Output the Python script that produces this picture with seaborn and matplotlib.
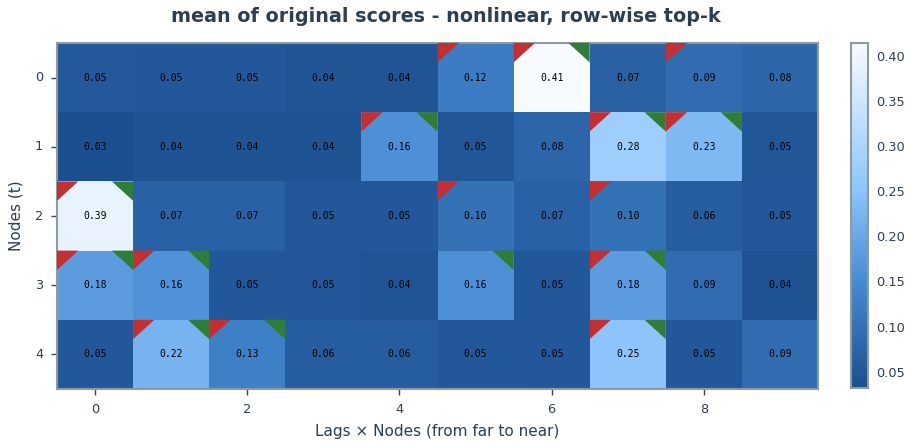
import numpy as np
import pandas as pd
import matplotlib
matplotlib.use("Agg")
import matplotlib.pyplot as plt
from matplotlib.colors import LinearSegmentedColormap
import seaborn as sns

# ---- data ----
row_labels = ["0", "1", "2", "3", "4"]
col_labels = [str(i) for i in range(10)]
row0 = [0.052, 0.051, 0.050, 0.044, 0.043, 0.122, 0.414, 0.068, 0.090, 0.080]
row1 = [0.032, 0.040, 0.041, 0.041, 0.160, 0.046, 0.078, 0.280, 0.230, 0.047]
row2 = [0.390, 0.070, 0.070, 0.050, 0.050, 0.100, 0.070, 0.102, 0.060, 0.050]
row3 = [0.180, 0.162, 0.050, 0.050, 0.043, 0.158, 0.050, 0.180, 0.090, 0.038]
row4 = [0.050, 0.220, 0.130, 0.060, 0.060, 0.050, 0.050, 0.250, 0.050, 0.090]
# top-k selected (red, top-left) and true links (green, top-right): column indices per row
topk_cols = [[5, 6, 8], [4, 7, 8], [0, 5, 7], [0, 1, 7], [1, 2, 7]]
true_cols = [[6], [4, 7, 8], [0], [0, 1, 5, 7], [1, 2, 7]]
xtick_labels = ["0", "2", "4", "6", "8"]
title = "mean of original scores - nonlinear, row-wise top-k"
xlabel = "Lags \u00d7 Nodes (from far to near)"
ylabel = "Nodes (t)"

df = pd.DataFrame([row0, row1, row2, row3, row4], index=row_labels, columns=col_labels)

text_col = "#2c3e50"
edge_col = "#8f9b9b"
cmap = LinearSegmentedColormap.from_list(
    "blu", [(0.0, "#1c4f8f"), (0.30, "#4489d0"), (0.57, "#8cc4fb"), (1.0, "#f7fbff")])

sns.set_style("white")
plt.rcParams["font.family"] = ["DejaVu Sans"]

fig = plt.figure(figsize=(9.13, 4.48), dpi=100)
ax = fig.add_axes([57 / 913, 59 / 448, 761 / 913, 346 / 448])
cax = fig.add_axes([851 / 913, 60 / 448, 17 / 913, 345 / 448])

sns.heatmap(df, ax=ax, cbar_ax=cax, cmap=cmap, annot=True, fmt=".2f",
            annot_kws={"family": "DejaVu Sans Mono", "size": 7, "color": "black"})

s = 0.28
for i in range(len(row_labels)):
    for j in topk_cols[i]:
        ax.fill([j, j + s, j], [i, i, i + s], color="#c23034", lw=0, zorder=3)
    for j in true_cols[i]:
        ax.fill([j + 1, j + 1 - s, j + 1], [i, i, i + s], color="#2f7d38", lw=0, zorder=3)

ax.set_xticks([int(t) + 0.5 for t in xtick_labels])
ax.set_xticklabels(xtick_labels, rotation=0)
ax.set_yticks([int(t) + 0.5 for t in row_labels])
ax.set_yticklabels(row_labels, rotation=0)
ax.tick_params(axis="both", which="both", length=4, width=1, color="#34495e",
               labelcolor=text_col, labelsize=9.3, pad=6, direction="out",
               bottom=True, left=True)
ax.set_xlabel(xlabel, color=text_col, fontsize=11, labelpad=6)
ax.set_ylabel(ylabel, color=text_col, fontsize=11, labelpad=8)
for sp in ax.spines.values():
    sp.set_visible(True)
    sp.set_color(edge_col)
    sp.set_linewidth(1.5)

cbar = ax.collections[0].colorbar
cbar.set_ticks([0.05, 0.10, 0.15, 0.20, 0.25, 0.30, 0.35, 0.40])
cbar.set_ticklabels(["0.05", "0.10", "0.15", "0.20", "0.25", "0.30", "0.35", "0.40"])
cax.tick_params(length=0, labelcolor=text_col, labelsize=9.3, pad=6)
cbar.outline.set_visible(True)
cbar.outline.set_edgecolor(edge_col)
cbar.outline.set_linewidth(1.5)

fig.text(446 / 913, 1 - 17 / 448, title, ha="center", va="center",
         fontsize=13.8, fontweight="bold", color=text_col)

fig.savefig("out.png", dpi=100)
